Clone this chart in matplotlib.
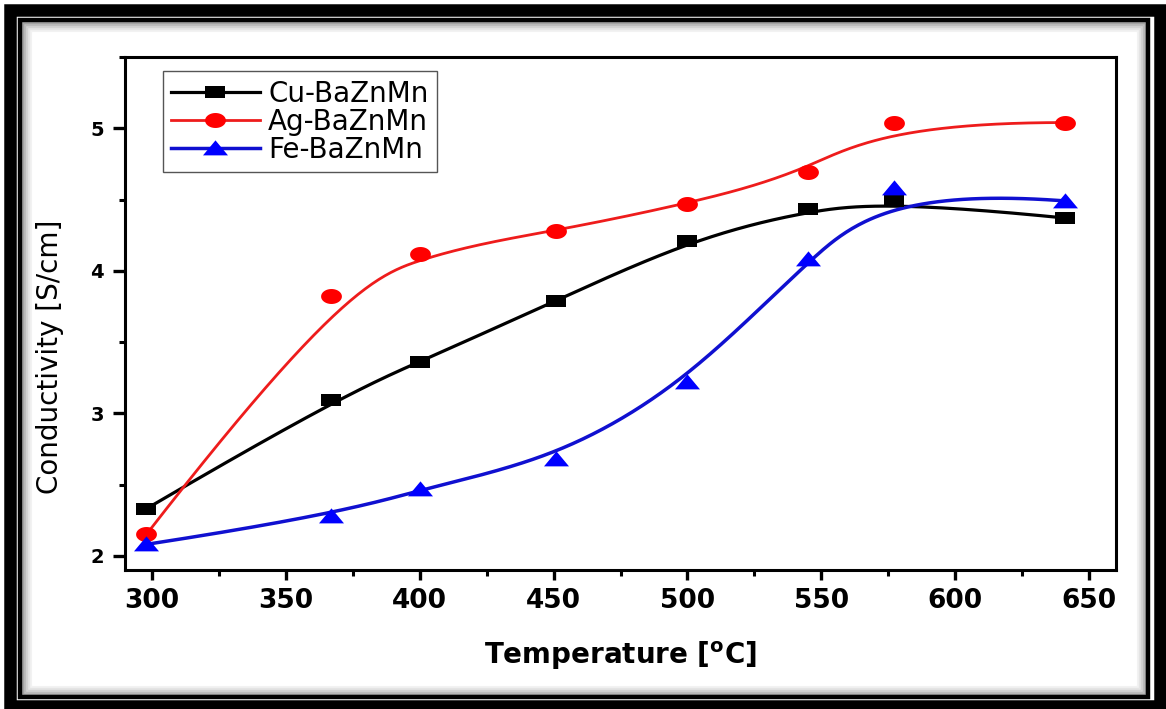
import numpy as np
import matplotlib
matplotlib.use("Agg")
import matplotlib.pyplot as plt
from matplotlib.patches import Rectangle

# data
temps = [298, 367, 400, 451, 500, 545, 577, 641]
cu_vals = [2.33, 3.09, 3.36, 3.79, 4.21, 4.43, 4.49, 4.37]
ag_vals = [2.15, 3.82, 4.12, 4.28, 4.47, 4.69, 5.04, 5.04]
fe_vals = [2.08, 2.28, 2.47, 2.68, 3.22, 4.08, 4.58, 4.49]
labels = ["Cu-BaZnMn", "Ag-BaZnMn", "Fe-BaZnMn"]

W, H = 1166, 709


def bspline(xs, ys, n=400, k=3):
    # clamped cubic B-spline using the data points as control points (Origin style)
    pts = np.column_stack([xs, ys]).astype(float)
    m = len(pts)
    knots = np.concatenate([[0] * k, np.arange(m - k + 1), [m - k] * k]).astype(float)
    t = np.linspace(0, m - k - 1e-9, n)
    B = np.array([((knots[i] <= t) & (t < knots[i + 1])).astype(float)
                  for i in range(len(knots) - 1)])
    for p in range(1, k + 1):
        nb = []
        for i in range(len(knots) - 1 - p):
            d1 = knots[i + p] - knots[i]
            d2 = knots[i + p + 1] - knots[i + 1]
            v = np.zeros_like(t)
            if d1 > 0:
                v += (t - knots[i]) / d1 * B[i]
            if d2 > 0:
                v += (knots[i + p + 1] - t) / d2 * B[i + 1]
            nb.append(v)
        B = np.array(nb)
    curve = B.T @ pts
    return curve[:, 0], curve[:, 1]


def px_rect(x0, y0, x1, y1, **kw):
    # rectangle given in image pixels (top-left origin)
    return Rectangle((x0 / W, 1 - y1 / H), (x1 - x0) / W, (y1 - y0) / H,
                     transform=fig.transFigure, fill=False, **kw)


# the original picture is stretched sideways, so the markers are wide
ang = np.linspace(0, 2 * np.pi, 40)
wide_square = [(-1, -0.66), (1, -0.66), (1, 0.66), (-1, 0.66), (-1, -0.66)]
wide_circle = list(zip(np.cos(ang), 0.72 * np.sin(ang)))
wide_tri = [(-1, -0.55), (1, -0.55), (0, 0.65), (-1, -0.55)]

plt.rcParams['mathtext.fontset'] = 'dejavusans'

fig = plt.figure(figsize=(W / 100, H / 100), dpi=100)
fig.patch.set_facecolor('white')

# decorative double frame with soft shadow
for i, a in enumerate([0.35, 0.25, 0.17, 0.1, 0.05]):
    fig.add_artist(px_rect(23 + i * 2, 23 + i * 2, 1146 - i * 2, 695 - i * 2,
                           edgecolor='black', alpha=a, linewidth=1.6))
fig.add_artist(px_rect(20, 20, 1148, 697, edgecolor='black', linewidth=3.2))
fig.add_artist(px_rect(10, 10, 1160, 705.5, edgecolor='black', linewidth=9))

ax = fig.add_axes([125 / W, 1 - 570 / H, (1116 - 125) / W, (570 - 57) / H])

series = [
    (cu_vals, 'black', 'black', wide_square, 2.3, 14),
    (ag_vals, '#ee1c1c', 'red', wide_circle, 2.0, 15),
    (fe_vals, '#1010d0', 'blue', wide_tri, 2.5, 18),
]
for (vals, lc, mc, mk, lw, ms), lab in zip(series, labels):
    sx, sy = bspline(temps, vals)
    ax.plot(sx, sy, color=lc, linewidth=lw, zorder=2)
    ax.plot(temps, vals, linestyle='none', marker=mk, color=mc,
            markersize=ms, markeredgewidth=0, zorder=3)
    ax.plot([], [], color=lc, linewidth=lw, marker=mk, markerfacecolor=mc,
            markeredgewidth=0, markersize=ms, label=lab)

ax.set_xlim(290, 660)
ax.set_ylim(1.9, 5.5)
ax.set_xticks([300, 350, 400, 450, 500, 550, 600, 650])
ax.set_xticks(np.arange(325, 660, 50), minor=True)
ax.set_yticks([2, 3, 4, 5])
ax.set_yticks([2.5, 3.5, 4.5, 5.5], minor=True)

for s in ax.spines.values():
    s.set_linewidth(2.2)
ax.tick_params(which='major', direction='out', length=7, width=2.4)
ax.tick_params(which='minor', direction='out', length=4, width=2.2)
ax.tick_params(axis='y', which='major', length=9, pad=6)
ax.tick_params(axis='x', which='major', pad=6)
for lbl in ax.get_xticklabels():
    lbl.set_fontsize(19)
    lbl.set_fontweight('bold')
for lbl in ax.get_yticklabels():
    lbl.set_fontsize(14)
    lbl.set_fontweight('bold')

ax.set_xlabel(r'Temperature [$^{\mathbf{o}}$C]', fontsize=20, fontweight='bold')
ax.xaxis.set_label_coords(0.5, -0.135)
ax.set_ylabel('Conductivity [S/cm]', fontsize=20)
ax.yaxis.set_label_coords(-0.062, 0.415)

leg = ax.legend(loc='upper left', bbox_to_anchor=(0.038, 0.972), fontsize=20,
                handlelength=3.2, handletextpad=0.3, borderpad=0.3,
                labelspacing=0.0, fancybox=False, framealpha=1,
                borderaxespad=0)
leg.get_frame().set_edgecolor('#555555')
leg.get_frame().set_linewidth(1.0)

fig.savefig('out.png', dpi=100, facecolor='white')
